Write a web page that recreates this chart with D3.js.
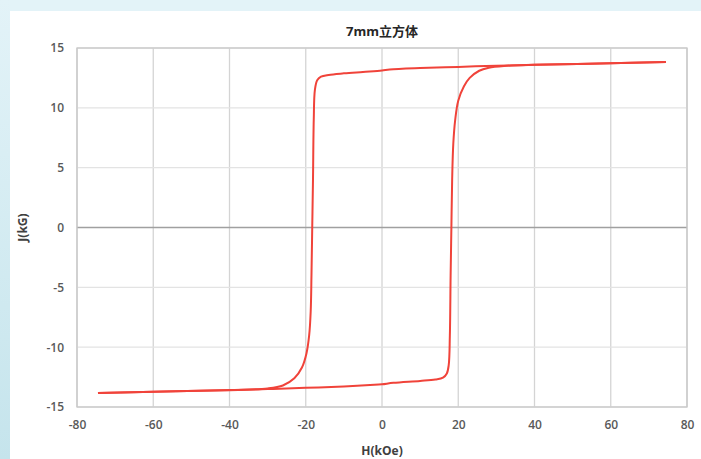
<!DOCTYPE html>
<html>
<head>
<meta charset="utf-8">
<script src="https://cdn.jsdelivr.net/npm/d3@7"></script>
<style>
  html, body { margin: 0; padding: 0; background: #fff; }
  svg { display: block; }
  text { font-family: "Open Sans", "Noto Sans CJK SC", sans-serif; }
</style>
</head>
<body>
<div id="svg-container"></div>
<script>
////////////////////////////////////////////////////////////////////
////////////////////////////  Data  ////////////////////////////////
const title = "7mm立方体";
const xTitle = "H(kOe)";
const yTitle = "J(kG)";
const xTicks = [-80, -60, -40, -20, 0, 20, 40, 60, 80];
const yTicks = [-15, -10, -5, 0, 5, 10, 15];

// descending branch (from +H to -H)
const downH = [74.5, 60, 40, 30, 20, 10, 2, 0, -5, -10, -14, -16, -17, -17.6, -17.9, -18.1, -18.3, -18.5, -18.7, -19.1, -19.8, -21, -23, -26, -30, -40, -60, -74.5];
const downJ = [13.82, 13.72, 13.6, 13.52, 13.42, 13.32, 13.2, 13.12, 13.0, 12.88, 12.75, 12.6, 12.3, 11.5, 9, 4, 0, -4, -7, -9, -10.5, -11.7, -12.6, -13.2, -13.45, -13.58, -13.72, -13.82];

// ascending branch (from -H to +H)
const upH = [-74.5, -60, -40, -30, -20, -10, -2, 0, 3, 10, 14, 16, 17, 17.5, 17.8, 18, 18.2, 18.4, 18.7, 19.2, 20, 21.5, 23, 25.5, 28, 32, 40, 60, 74.5];
const upJ = [-13.82, -13.72, -13.6, -13.5, -13.4, -13.28, -13.15, -13.1, -12.98, -12.82, -12.7, -12.55, -12.2, -11.5, -9, -4, 0, 4, 7, 9, 10.6, 11.8, 12.5, 13.1, 13.35, 13.5, 13.6, 13.72, 13.82];

////////////////////////////////////////////////////////////////////
////////////////////////////  Init  ////////////////////////////////
const width = 701;
const height = 459;
const margin = { top: 48, right: 13, bottom: 52, left: 77 };

const svg = d3.select("#svg-container").append("svg")
  .attr("width", width)
  .attr("height", height);

// slide-like frame
const defs = svg.append("defs");
const grad = defs.append("linearGradient").attr("id", "side")
  .attr("x1", 0).attr("y1", 0).attr("x2", 0).attr("y2", 1);
grad.append("stop").attr("offset", "0%").attr("stop-color", "#e3f3f8");
grad.append("stop").attr("offset", "100%").attr("stop-color", "#c5e4ec");

svg.append("rect").attr("width", width).attr("height", 11).attr("fill", "#e3f3f8");
svg.append("rect").attr("width", 10).attr("height", height).attr("fill", "url(#side)");

const xScale = d3.scaleLinear().domain([-80, 80]).range([margin.left, width - margin.right - 1]);
const yScale = d3.scaleLinear().domain([-15, 15]).range([height - margin.bottom, margin.top]);

// Gridlines
svg.append("g")
  .selectAll("line")
  .data(xTicks)
  .join("line")
  .attr("x1", (d) => xScale(d)).attr("x2", (d) => xScale(d))
  .attr("y1", yScale(15)).attr("y2", yScale(-15))
  .attr("stroke", "#d4d4d4")
  .attr("stroke-width", 1.3);

svg.append("g")
  .selectAll("line")
  .data(yTicks)
  .join("line")
  .attr("x1", xScale(-80)).attr("x2", xScale(80))
  .attr("y1", (d) => yScale(d)).attr("y2", (d) => yScale(d))
  .attr("stroke", (d) => (d === 0 ? "#a0a0a0" : "#e3e3e3"))
  .attr("stroke-width", 1.3);

// Plot border
svg.append("rect")
  .attr("x", xScale(-80)).attr("y", yScale(15))
  .attr("width", xScale(80) - xScale(-80))
  .attr("height", yScale(-15) - yScale(15))
  .attr("fill", "none")
  .attr("stroke", "#c8c8c8")
  .attr("stroke-width", 1.3);

// Axes labels (plain hyphen minus, as in the source)
const fmt = (d) => String(d);
const xAxis = d3.axisBottom(xScale).tickValues(xTicks).tickFormat(fmt).tickSize(0).tickPadding(13);
const yAxis = d3.axisLeft(yScale).tickValues(yTicks).tickFormat(fmt).tickSize(0).tickPadding(13);

const gx = svg.append("g")
  .attr("transform", `translate(0,${height - margin.bottom})`)
  .call(xAxis);
const gy = svg.append("g")
  .attr("transform", `translate(${margin.left},0)`)
  .call(yAxis);

[gx, gy].forEach((g) => {
  g.select(".domain").remove();
  g.selectAll("text")
    .attr("fill", "#595959")
    .style("font-size", "12px")
    .style("font-weight", 600)
    .style("font-family", "'Open Sans', sans-serif");
});

// Titles
svg.append("text")
  .attr("x", xScale(0)).attr("y", 36)
  .attr("text-anchor", "middle")
  .attr("fill", "#262626")
  .style("font-size", "13px")
  .style("font-weight", 700)
  .text(title);

svg.append("text")
  .attr("x", xScale(0)).attr("y", 455)
  .attr("text-anchor", "middle")
  .attr("fill", "#404040")
  .style("font-size", "12px")
  .style("font-weight", 700)
  .text(xTitle);

svg.append("text")
  .attr("transform", `translate(27,${yScale(0)}) rotate(-90)`)
  .attr("text-anchor", "middle")
  .attr("fill", "#404040")
  .style("font-size", "12px")
  .style("font-weight", 700)
  .text(yTitle);

////////////////////////////////////////////////////////////////////
////////////////////////////  Loop  ////////////////////////////////
const down = downH.map((h, i) => ({ h, j: downJ[i] }));
const up = upH.map((h, i) => ({ h, j: upJ[i] }));

const lineGenerator = d3.line()
  .x((d) => xScale(d.h))
  .y((d) => yScale(d.j))
  .curve(d3.curveCatmullRom.alpha(0.5));

[down, up].forEach((branch) => {
  svg.append("path")
    .datum(branch)
    .attr("d", lineGenerator)
    .attr("fill", "none")
    .attr("stroke", "#f0433a")
    .attr("stroke-width", 2)
    .attr("stroke-linejoin", "round");
});
</script>
</body>
</html>
